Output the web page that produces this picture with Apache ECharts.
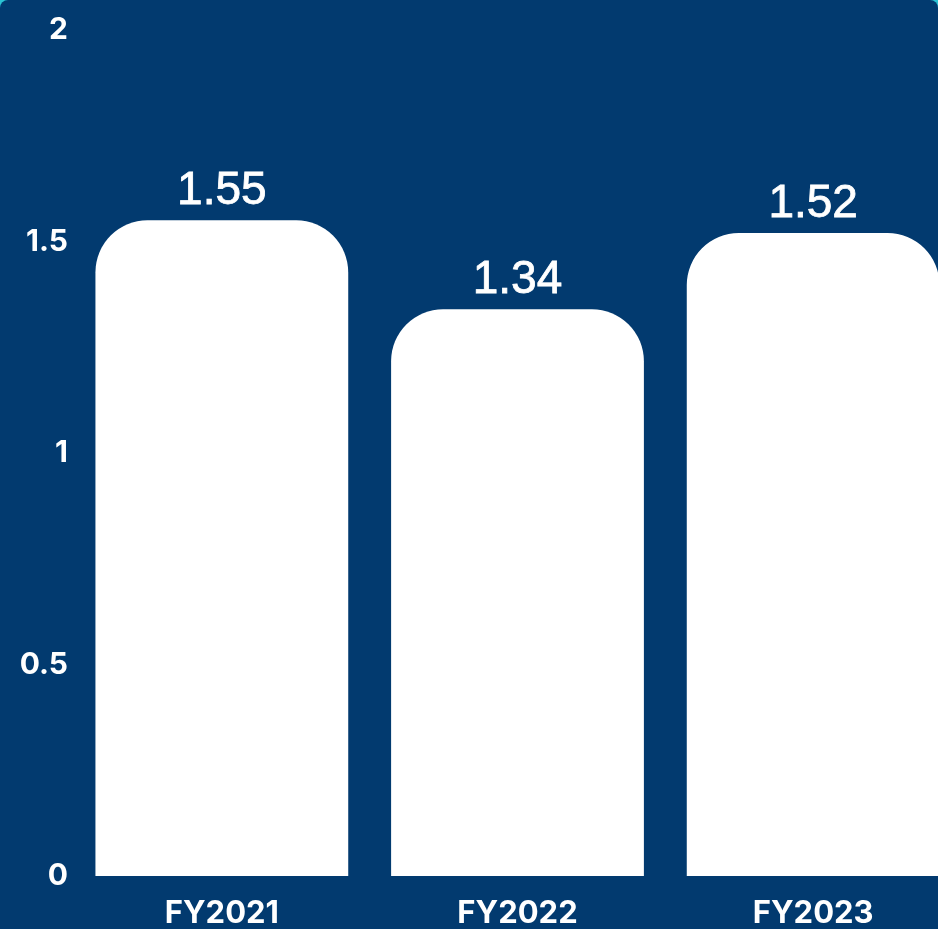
<!DOCTYPE html>
<html>
<head>
<meta charset="utf-8">
<script src="https://cdn.jsdelivr.net/npm/echarts@6/dist/echarts.min.js"></script>
<style>
  html, body { margin: 0; padding: 0; background: #2bc3d3; overflow: hidden; }
  #frame { width: 938px; height: 929px; overflow: hidden; background: #023a6f; border-radius: 8px 8px 0 0; position: relative; }
  #chart { width: 1000px; height: 929px; position: absolute; left: 0; top: 0; }
</style>
</head>
<body>
<div id="frame"><div id="chart"></div></div>
<script>
const categories = ['FY2021', 'FY2022', 'FY2023'];
const values = [1.55, 1.34, 1.52];
const yTicks = [0, 0.5, 1, 1.5, 2];

const chart = echarts.init(document.getElementById('chart'), null, { renderer: 'canvas' });
chart.setOption({
  backgroundColor: 'transparent',
  animation: false,
  grid: { left: 74, right: 39, top: 30, bottom: 53 },
  xAxis: {
    type: 'category',
    data: categories,
    axisLine: { show: false },
    axisTick: { show: false },
    axisLabel: {
      color: '#ffffff',
      fontFamily: 'Inter',
      fontWeight: 700,
      fontSize: 31,
      margin: 22
    }
  },
  yAxis: {
    type: 'value',
    min: yTicks[0],
    max: yTicks[yTicks.length - 1],
    interval: 0.5,
    splitLine: { show: false },
    axisLine: { show: false },
    axisTick: { show: false },
    axisLabel: {
      color: '#ffffff',
      fontFamily: 'Inter',
      fontWeight: 700,
      fontSize: 30,
      margin: 6
    }
  },
  series: [{
    type: 'bar',
    data: values,
    barWidth: '85.5%',
    itemStyle: { color: '#ffffff', borderRadius: [52, 52, 0, 0] },
    label: {
      show: true,
      position: 'top',
      distance: 6,
      color: '#ffffff',
      fontFamily: 'Liberation Sans',
      fontSize: 46,
      fontWeight: 500,
      textBorderColor: '#ffffff',
      textBorderWidth: 0.8,
      formatter: p => p.value.toFixed(2)
    }
  }]
});
</script>
</body>
</html>
